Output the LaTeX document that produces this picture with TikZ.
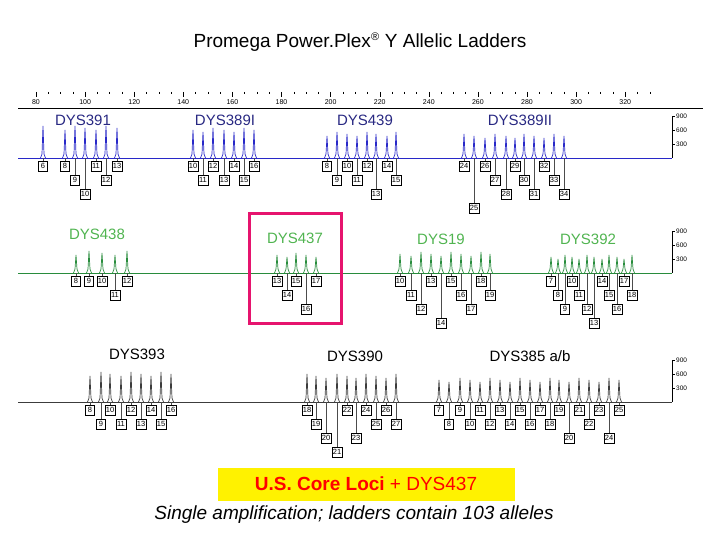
\documentclass[tikz,border=0pt]{standalone}
\usepackage{fontspec}
\setmainfont{Liberation Sans}
\begin{document}
\begin{tikzpicture}[x=1pt,y=-1pt,
 lbl/.style={draw=black,fill=white,inner sep=1pt,minimum height=10pt,minimum width=9pt,font=\fontsize{7.5}{8}\selectfont},
 conn/.style={draw=black!70,line width=0.5},
 locname/.style={font=\fontsize{15}{17}\selectfont},
 scl/.style={font=\fontsize{6.5}{7}\selectfont,anchor=west,inner sep=1pt}]
\useasboundingbox (0,0) rectangle (720,540);
\definecolor{tblue}{RGB}{40,40,200}
\definecolor{nblue}{RGB}{40,40,130}
\definecolor{tgreen}{RGB}{40,140,60}
\definecolor{ngreen}{RGB}{80,180,80}
\definecolor{tgray}{RGB}{60,60,60}
\definecolor{pinkbox}{RGB}{230,20,110}
\newcommand\mylocus[5]{% prefix, base, height, colour, list
 \foreach \px/\pl/\pv in {#5}{
   \pgfmathsetmacro\hh{#3-mod(\pl,3)*2}
   \draw[#4,line width=0.7] (\px-2.5,#2) -- (\px-1,#2-4) -- (\px,#2-\hh) -- (\px+1,#2-4) -- (\px+2.5,#2);
   \pgfmathsetmacro\yy{#2+8+(\pv-1)*14}
   \node[lbl] (#1\pl) at (\px,\yy) {\pl};
   \draw[conn] (\px,#2) -- (#1\pl.north);
 }}
\newcommand\myscale[1]{% base
 \draw (672,#1) -- (672,#1-42);
 \foreach \sv/\sd in {900/42,600/28,300/14}{\draw (672,#1-\sd) -- (675,#1-\sd) node[scl] {\sv};}}
% title
\node (title) at (360,42) {\fontsize{19}{22}\selectfont Promega Power.Plex\textsuperscript{\fontsize{11}{12}\selectfont\textregistered} Y Allelic Ladders};
% ruler
\draw (18,108) -- (703,108);
\foreach \rv in {80,85,...,330}{
  \pgfmathsetmacro\rx{36+(\rv-80)*2.455}
  \pgfmathtruncatemacro\mj{mod(\rv,20)==0}
  \ifnum\mj=1
    \draw (\rx,92) -- (\rx,97);
    \node[font=\fontsize{7}{8}\selectfont,inner sep=0pt] at (\rx,102) {\rv};
  \else
    \draw (\rx,92) -- (\rx,94);
  \fi}
% row 1
\draw[tblue,line width=0.6] (18,158) -- (672,158);
\myscale{158}
\node[locname,text=nblue] (DYS391) at (83,120) {DYS391};
\node[locname,text=nblue] (DYS389I) at (225,120) {DYS389I};
\node[locname,text=nblue] (DYS439) at (365,120) {DYS439};
\node[locname,text=nblue] (DYS389II) at (520,120) {DYS389II};
\mylocus{a}{158}{32}{tblue}{43/6/1,65/8/1,75/9/2,85/10/3,96/11/1,106/12/2,117/13/1}
\mylocus{b}{158}{30}{tblue}{193/10/1,203/11/2,213/12/1,224/13/2,234/14/1,244/15/2,254/16/1}
\mylocus{c}{158}{26}{tblue}{327/8/1,337/9/2,347/10/1,357/11/2,367/12/1,376/13/3,387/14/1,396/15/2}
\mylocus{d}{158}{24}{tblue}{464/24/1,474/25/4,485/26/1,495/27/2,506/28/3,515/29/1,524/30/2,534/31/3,544/32/1,554/33/2,564/34/3}
% row 2
\draw[tgreen,line width=0.6] (18,273) -- (672,273);
\myscale{273}
\node[locname,text=ngreen] (DYS438) at (97,234) {DYS438};
\node[locname,text=ngreen] (DYS437) at (295,238) {DYS437};
\node[locname,text=ngreen] (DYS19) at (441,239) {DYS19};
\node[locname,text=ngreen] (DYS392) at (588,239) {DYS392};
\mylocus{e}{273}{22}{tgreen}{76/8/1,89/9/1,102/10/1,115/11/2,127/12/1}
\mylocus{f}{273}{20}{tgreen}{277/13/1,287/14/2,296/15/1,306/16/3,316/17/1}
\mylocus{g}{273}{21}{tgreen}{400/10/1,411/11/2,421/12/3,431/13/1,441/14/4,451/15/1,461/16/2,471/17/3,481/18/1,490/19/2}
\mylocus{h}{273}{18}{tgreen}{551/7/1,558/8/2,565/9/3,572/10/1,579/11/2,587/12/3,594/13/4,602/14/1,609/15/2,617/16/3,624/17/1,632/18/2}
\draw[pinkbox,line width=3] (249,214) rectangle (341,323);
% row 3
\draw[tgray,line width=0.6] (18,402) -- (672,402);
\myscale{402}
\node[locname] (DYS393) at (137,354) {DYS393};
\node[locname] (DYS390) at (355,356) {DYS390};
\node[locname] (DYS385) at (530,356) {DYS385 a/b};
\mylocus{i}{402}{30}{tgray}{90/8/1,101/9/2,110/10/1,121/11/2,131/12/1,141/13/2,151/14/1,161/15/2,171/16/1}
\mylocus{j}{402}{28}{tgray}{307/18/1,316/19/2,326/20/3,337/21/4,347/22/1,356/23/3,366/24/1,376/25/2,386/26/1,396/27/2}
\mylocus{k}{402}{24}{tgray}{439/7/1,449/8/2,460/9/1,470/10/2,480/11/1,490/12/2,500/13/1,510/14/2,520/15/1,530/16/2,540/17/1,550/18/2,559/19/1,569/20/3,579/21/1,589/22/2,599/23/1,609/24/3,619/25/1}
% bottom
\node[fill=yellow,minimum width=297pt,minimum height=33pt,inner sep=0pt] (core) at (366,484)
  {\fontsize{19}{22}\selectfont\color{red}\textbf{U.S. Core Loci} + DYS437};
\node (single) at (354,515) {\fontsize{19}{22}\selectfont\itshape Single amplification; ladders contain 103 alleles};
\end{tikzpicture}
\end{document}
